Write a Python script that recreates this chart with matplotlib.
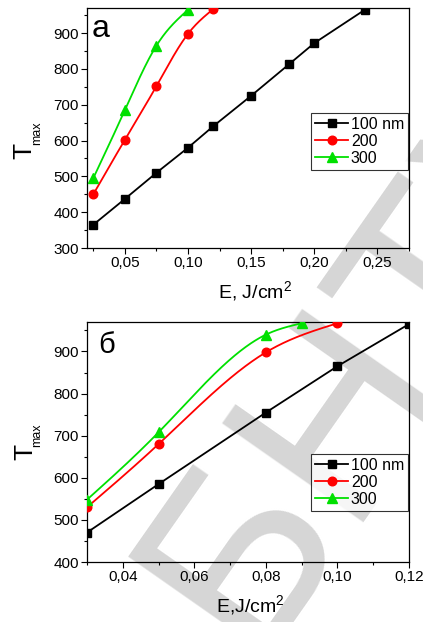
import numpy as np
import matplotlib
matplotlib.use("Agg")
import matplotlib.pyplot as plt
from matplotlib.ticker import MultipleLocator, FuncFormatter

plt.rcParams['font.family'] = ['Liberation Sans', 'DejaVu Sans']

# Panel a data
a_x100 = [0.025, 0.05, 0.075, 0.10, 0.12, 0.15, 0.18, 0.20, 0.24]
a_y100 = [365, 437, 510, 580, 640, 725, 813, 872, 965]
a_x200 = [0.025, 0.05, 0.075, 0.10, 0.12]
a_y200 = [450, 602, 752, 898, 967]
a_x300 = [0.025, 0.05, 0.075, 0.10]
a_y300 = [495, 685, 865, 965]

# Panel b data
b_x100 = [0.03, 0.05, 0.08, 0.10, 0.12]
b_y100 = [470, 585, 755, 865, 965]
b_x200 = [0.03, 0.05, 0.08, 0.10]
b_y200 = [530, 680, 898, 967]
b_x300 = [0.03, 0.05, 0.08, 0.09]
b_y300 = [548, 708, 940, 967]

labels = ['100 nm', '200', '300']
colors = ['black', '#ff0000', '#00e000']
markers = ['s', 'o', '^']
msizes = [5.5, 6.2, 7.0]


def spline(x, y, n=200):
    x = np.asarray(x, float); y = np.asarray(y, float)
    m = len(x)
    h = np.diff(x)
    A = np.zeros((m, m)); r = np.zeros(m)
    A[0, 0] = 1; A[-1, -1] = 1
    for i in range(1, m - 1):
        A[i, i - 1] = h[i - 1]; A[i, i] = 2 * (h[i - 1] + h[i]); A[i, i + 1] = h[i]
        r[i] = 3 * ((y[i + 1] - y[i]) / h[i] - (y[i] - y[i - 1]) / h[i - 1])
    c = np.linalg.solve(A, r)
    b = (y[1:] - y[:-1]) / h - h * (2 * c[:-1] + c[1:]) / 3
    d = (c[1:] - c[:-1]) / (3 * h)
    xs = np.linspace(x[0], x[-1], n)
    idx = np.clip(np.searchsorted(x, xs) - 1, 0, m - 2)
    t = xs - x[idx]
    ys = y[idx] + b[idx] * t + c[idx] * t ** 2 + d[idx] * t ** 3
    return xs, ys


W, H = 423, 622
fig = plt.figure(figsize=(W / 100, H / 100), dpi=100)
ax1 = fig.add_axes([87 / W, 1 - 248 / H, 322 / W, 240 / H])
ax2 = fig.add_axes([87 / W, 1 - 562 / H, 322 / W, 240 / H])

comma = FuncFormatter(lambda v, p: ('%.2f' % v).replace('.', ','))
comma0 = FuncFormatter(lambda v, p: '%d' % v)


def draw(ax, data, smooth, leg_y):
    for (x, y), lab, col, mk, ms, sm in zip(data, labels, colors, markers, msizes, smooth):
        if sm:
            xs, ys = spline(x, y)
        else:
            xs, ys = x, y
        ax.plot(xs, ys, color=col, lw=1.3, zorder=2)
        ax.plot(x, y, color=col, lw=0, marker=mk, ms=ms, zorder=3)
        ax.plot([], [], color=col, lw=1.3, marker=mk, ms=ms, label=lab)
    ax.set_facecolor('none')
    ax.tick_params(axis='both', which='major', direction='out', length=4, width=0.8,
                   labelsize=11, top=False, right=False, pad=2)
    ax.tick_params(axis='both', which='minor', direction='out', length=2.5, width=0.8)
    ax.yaxis.set_major_formatter(comma0)
    ax.xaxis.set_major_formatter(comma)
    for s in ax.spines.values():
        s.set_linewidth(0.9)
    leg = ax.legend(loc='upper right', bbox_to_anchor=(0.997, leg_y), frameon=True, fancybox=False,
                    edgecolor='black', fontsize=11.5, handlelength=2.1, handletextpad=0.15,
                    borderpad=0.25, labelspacing=0.12, borderaxespad=0.0)
    leg.get_frame().set_linewidth(0.8)


draw(ax1, [(a_x100, a_y100), (a_x200, a_y200), (a_x300, a_y300)], [False, True, True], 0.5625)
ax1.set_xlim(0.02, 0.275)
ax1.set_ylim(300, 970)
ax1.xaxis.set_major_locator(MultipleLocator(0.05))
ax1.xaxis.set_minor_locator(MultipleLocator(0.025))
ax1.yaxis.set_major_locator(MultipleLocator(100))
ax1.yaxis.set_minor_locator(MultipleLocator(50))
ax1.text(0.015, 0.879, 'а', transform=ax1.transAxes, fontsize=23, va='baseline', ha='left')

draw(ax2, [(b_x100, b_y100), (b_x200, b_y200), (b_x300, b_y300)], [False, True, True], 0.45)
ax2.set_xlim(0.03, 0.12)
ax2.set_ylim(400, 970)
ax2.xaxis.set_major_locator(MultipleLocator(0.02))
ax2.xaxis.set_minor_locator(MultipleLocator(0.01))
ax2.yaxis.set_major_locator(MultipleLocator(100))
ax2.yaxis.set_minor_locator(MultipleLocator(50))
ax2.text(0.034, 0.871, 'б', transform=ax2.transAxes, fontsize=21, va='baseline', ha='left')

# axis labels
fig.text(255 / W, 1 - 299 / H, 'E, J/cm$^{\\mathregular{2}}$', fontsize=14, ha='center', va='baseline')
fig.text(250 / W, 1 - 613 / H, 'E,J/cm$^{\\mathregular{2}}$', fontsize=14, ha='center', va='baseline')
for (tx, ty, mx, my) in [(24, 151, 37, 133.5), (25, 452, 37, 435)]:
    fig.text(tx / W, 1 - ty / H, 'T', fontsize=19, rotation=90, ha='center', va='center')
    fig.text(mx / W, 1 - my / H, 'max', fontsize=9, rotation=90, ha='center', va='center')

# watermark
fig.text(385 / W, 1 - 350 / H, 'БНТУ', fontsize=180, color='#d6d6d6', rotation=55,
         ha='center', va='center', zorder=-5)

fig.savefig('out.png', dpi=100)
